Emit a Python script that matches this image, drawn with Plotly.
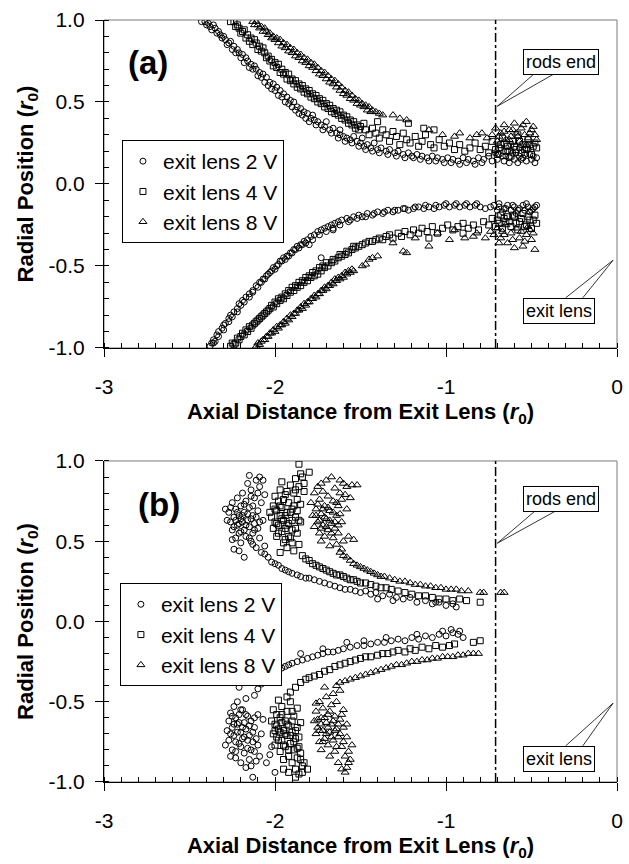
import plotly.graph_objects as go

# ---------------- data ----------------
X_TICKS = [-3, -2, -1, 0]
X_TICKTEXT = ["-3", "-2", "-1", "0"]
Y_TICKS = [-1.0, -0.5, 0.0, 0.5, 1.0]
Y_TICKTEXT = ["-1.0", "-0.5", "0.0", "0.5", "1.0"]
SERIES_NAMES = ["exit lens 2 V", "exit lens 4 V", "exit lens 8 V"]
RODS_END_X = -0.71

# panel (a)
a_2v_upper = [(-2.43,0.99),(-2.41,0.99),(-2.39,0.98),(-2.38,0.96),(-2.36,0.97),(-2.35,0.95),(-2.33,0.93),(-2.32,0.91),(-2.30,0.90),(-2.29,0.88),(-2.27,0.86),(-2.26,0.87),(-2.24,0.84),(-2.22,0.82),(-2.21,0.80),(-2.19,0.79),(-2.17,0.77),(-2.16,0.75),(-2.14,0.73),(-2.12,0.72),(-2.11,0.70),(-2.09,0.68),(-2.07,0.67),(-2.05,0.65),(-2.03,0.62),(-2.01,0.61),(-1.99,0.59),(-1.97,0.57),(-1.95,0.55),(-1.93,0.53),(-1.91,0.51),(-1.89,0.50),(-1.87,0.47),(-1.85,0.46),(-1.83,0.44),(-1.81,0.43),(-1.79,0.40),(-1.77,0.39),(-1.75,0.38),(-1.73,0.36),(-1.71,0.35),(-1.68,0.33),(-1.66,0.34),(-1.64,0.31),(-1.62,0.30),(-1.60,0.29),(-1.58,0.28),(-1.56,0.27),(-1.54,0.29),(-1.52,0.26),(-1.50,0.25),(-1.48,0.23),(-1.46,0.24),(-1.44,0.22),(-1.42,0.25),(-1.40,0.21),(-1.38,0.22),(-1.35,0.20),(-1.33,0.21),(-1.30,0.19),(-1.28,0.20),(-1.25,0.18),(-1.22,0.19),(-1.20,0.17),(-1.17,0.18),(-1.14,0.17),(-1.11,0.16),(-1.08,0.17),(-1.05,0.16),(-1.02,0.15),(-0.99,0.16),(-0.96,0.15),(-0.93,0.14),(-0.90,0.16),(-0.87,0.15),(-0.84,0.14),(-0.81,0.16),(-0.78,0.15),(-0.75,0.17),(-0.73,0.14),(-0.71,0.19),(-0.70,0.15),(-0.68,0.22),(-0.67,0.17),(-0.66,0.14),(-0.64,0.20),(-0.63,0.16),(-0.62,0.24),(-0.60,0.15),(-0.59,0.19),(-0.58,0.13),(-0.57,0.22),(-0.55,0.16),(-0.54,0.18),(-0.53,0.14),(-0.52,0.21),(-0.50,0.15),(-0.49,0.17),(-0.48,0.13),(-1.78,0.42),(-1.70,0.38),(-1.62,0.33),(-1.49,0.28),
              (-2.40,0.97),(-2.37,0.94),(-2.34,0.92),(-2.31,0.89),(-2.28,0.85),(-2.25,0.82),(-2.23,0.80),(-2.20,0.77),(-2.18,0.74),(-2.15,0.71),(-2.13,0.70),(-2.10,0.66),(-2.08,0.65),(-2.06,0.62),(-2.04,0.60),(-2.02,0.58),(-2.00,0.57),(-1.98,0.54),(-1.96,0.53),(-1.94,0.50),(-1.92,0.49),(-1.90,0.47),(-1.88,0.45),(-1.86,0.43),(-1.84,0.42),(-1.82,0.40),(-1.80,0.38),(-1.76,0.36),(-1.72,0.33),(-1.67,0.31),(-1.63,0.28),(-1.59,0.26),(-1.55,0.25),(-1.51,0.23),(-1.47,0.21),(-1.43,0.20),(-1.39,0.19),(-1.34,0.18),(-1.29,0.17),(-1.24,0.16),(-1.19,0.16),(-1.15,0.15),(-1.10,0.14),(-1.06,0.14),(-1.01,0.13),(-0.97,0.13),(-0.92,0.12),(-0.88,0.13),(-0.83,0.12),(-0.79,0.13),
              (-0.69,0.18),(-0.65,0.17),(-0.61,0.19),(-0.56,0.15),(-0.51,0.18),(-0.47,0.16),(-0.63,0.13),(-0.57,0.17)]
a_2v_lower = [(-2.38,-0.99),(-2.37,-0.97),(-2.36,-0.95),(-2.35,-0.96),(-2.34,-0.92),(-2.33,-0.90),(-2.31,-0.88),(-2.30,-0.86),(-2.29,-0.85),(-2.27,-0.82),(-2.26,-0.80),(-2.24,-0.78),(-2.22,-0.76),(-2.21,-0.73),(-2.19,-0.71),(-2.17,-0.69),(-2.15,-0.67),(-2.13,-0.65),(-2.11,-0.62),(-2.09,-0.60),(-2.07,-0.58),(-2.05,-0.56),(-2.03,-0.54),(-2.01,-0.51),(-1.99,-0.50),(-1.97,-0.47),(-1.95,-0.45),(-1.93,-0.44),(-1.91,-0.42),(-1.89,-0.40),(-1.87,-0.38),(-1.85,-0.37),(-1.83,-0.35),(-1.81,-0.34),(-1.79,-0.32),(-1.77,-0.31),(-1.75,-0.29),(-1.73,-0.28),(-1.71,-0.27),(-1.69,-0.26),(-1.67,-0.25),(-1.65,-0.24),(-1.63,-0.23),(-1.61,-0.22),(-1.58,-0.21),(-1.56,-0.22),(-1.54,-0.20),(-1.51,-0.19),(-1.49,-0.20),(-1.46,-0.18),(-1.43,-0.19),(-1.40,-0.17),(-1.37,-0.18),(-1.34,-0.16),(-1.31,-0.17),(-1.28,-0.16),(-1.25,-0.15),(-1.22,-0.16),(-1.19,-0.15),(-1.16,-0.14),(-1.13,-0.15),(-1.10,-0.14),(-1.07,-0.15),(-1.04,-0.14),(-1.01,-0.13),(-0.98,-0.14),(-0.95,-0.13),(-0.92,-0.14),(-0.89,-0.13),(-0.86,-0.14),(-0.83,-0.13),(-0.80,-0.14),(-0.77,-0.15),(-0.74,-0.14),(-0.72,-0.13),(-0.70,-0.16),(-0.69,-0.14),(-0.67,-0.17),(-0.65,-0.15),(-0.64,-0.13),(-0.62,-0.16),(-0.60,-0.14),(-0.59,-0.18),(-0.57,-0.15),(-0.55,-0.13),(-0.54,-0.16),(-0.52,-0.14),(-0.51,-0.17),(-0.49,-0.15),(-0.48,-0.14),(-1.73,-0.45),(-1.80,-0.37),(-1.66,-0.28),
              (-2.36,-0.97),(-2.33,-0.93),(-2.30,-0.89),(-2.27,-0.84),(-2.25,-0.81),(-2.22,-0.78),(-2.20,-0.74),(-2.18,-0.72),(-2.15,-0.69),(-2.13,-0.66),(-2.10,-0.63),(-2.08,-0.60),(-2.06,-0.58),(-2.04,-0.55),(-2.02,-0.53),(-2.00,-0.52),(-1.98,-0.49),(-1.96,-0.47),(-1.94,-0.46),(-1.92,-0.44),(-1.90,-0.42),(-1.88,-0.40),(-1.86,-0.39),(-1.84,-0.37),(-1.82,-0.36),(-1.78,-0.34),(-1.74,-0.31),(-1.70,-0.29),(-1.66,-0.27),(-1.62,-0.25),(-1.57,-0.23),(-1.52,-0.21),(-1.47,-0.20),(-1.42,-0.18),(-1.36,-0.17),(-1.30,-0.16),(-1.24,-0.15),(-1.18,-0.14),(-1.12,-0.13),(-1.06,-0.13),(-1.00,-0.12),(-0.94,-0.12),(-0.88,-0.12),(-0.82,-0.12),
              (-0.69,-0.12),(-0.66,-0.15),(-0.61,-0.13),(-0.58,-0.16),(-0.53,-0.12),(-0.50,-0.16),(-0.47,-0.13)]
a_4v_upper = [(-2.26,0.99),(-2.24,0.99),(-2.22,0.97),(-2.21,0.95),(-2.19,0.93),(-2.18,0.94),(-2.16,0.91),(-2.14,0.89),(-2.12,0.88),(-2.11,0.86),(-2.09,0.84),(-2.07,0.83),(-2.06,0.80),(-2.04,0.78),(-2.02,0.76),(-2.00,0.74),(-1.98,0.73),(-1.96,0.70),(-1.94,0.68),(-1.92,0.67),(-1.90,0.64),(-1.88,0.63),(-1.86,0.61),(-1.84,0.60),(-1.82,0.58),(-1.80,0.57),(-1.78,0.55),(-1.76,0.54),(-1.74,0.52),(-1.72,0.51),(-1.70,0.49),(-1.68,0.48),(-1.66,0.46),(-1.64,0.45),(-1.62,0.44),(-1.60,0.42),(-1.58,0.41),(-1.56,0.39),(-1.54,0.38),(-1.52,0.36),(-1.50,0.35),(-1.48,0.37),(-1.47,0.33),(-1.45,0.30),(-1.43,0.34),(-1.41,0.31),(-1.39,0.28),(-1.37,0.33),(-1.35,0.30),(-1.33,0.26),(-1.31,0.32),(-1.29,0.29),(-1.27,0.24),(-1.25,0.31),(-1.23,0.27),(-1.21,0.25),(-1.18,0.29),(-1.16,0.23),(-1.14,0.26),(-1.12,0.30),(-1.09,0.24),(-1.07,0.22),(-1.04,0.27),(-1.01,0.23),(-0.98,0.25),(-0.95,0.21),(-0.92,0.24),(-0.89,0.20),(-0.86,0.22),(-0.83,0.25),(-0.80,0.21),(-0.77,0.23),(-0.75,0.19),(-0.73,0.26),(-0.71,0.21),(-0.70,0.18),(-0.68,0.24),(-0.67,0.28),(-0.65,0.20),(-0.64,0.23),(-0.62,0.17),(-0.61,0.26),(-0.59,0.21),(-0.58,0.30),(-0.56,0.19),(-0.55,0.24),(-0.53,0.22),(-0.52,0.27),(-0.50,0.18),(-0.49,0.23),(-0.48,0.25),(-1.22,0.37),(-1.13,0.34),(-1.07,0.33),(-1.40,0.38),
              (-2.23,0.96),(-2.20,0.92),(-2.17,0.89),(-2.15,0.87),(-2.13,0.85),(-2.10,0.82),(-2.08,0.81),(-2.05,0.77),(-2.03,0.75),(-2.01,0.72),(-1.99,0.71),(-1.97,0.68),(-1.95,0.67),(-1.93,0.64),(-1.91,0.63),(-1.89,0.61),(-1.87,0.59),(-1.85,0.58),(-1.83,0.56),(-1.81,0.55),(-1.79,0.53),(-1.77,0.52),(-1.75,0.50),(-1.73,0.49),(-1.71,0.47),(-1.69,0.46),(-1.67,0.44),(-1.65,0.43),(-1.63,0.42),(-1.61,0.40),(-1.59,0.39),(-1.57,0.37),(-1.55,0.36),(-1.53,0.34),(-1.51,0.33),
              (-0.69,0.22),(-0.66,0.25),(-0.63,0.20),(-0.60,0.23),(-0.57,0.26),(-0.54,0.21),(-0.51,0.24),(-0.47,0.22)]
a_4v_lower = [(-2.26,-0.99),(-2.24,-0.98),(-2.23,-0.97),(-2.21,-0.95),(-2.20,-0.93),(-2.18,-0.92),(-2.16,-0.90),(-2.14,-0.88),(-2.13,-0.86),(-2.11,-0.84),(-2.09,-0.82),(-2.07,-0.80),(-2.05,-0.78),(-2.03,-0.76),(-2.01,-0.75),(-1.99,-0.73),(-1.97,-0.71),(-1.95,-0.70),(-1.93,-0.68),(-1.91,-0.66),(-1.89,-0.65),(-1.87,-0.63),(-1.85,-0.62),(-1.83,-0.60),(-1.81,-0.59),(-1.79,-0.57),(-1.77,-0.56),(-1.75,-0.55),(-1.73,-0.53),(-1.71,-0.51),(-1.69,-0.50),(-1.67,-0.48),(-1.65,-0.47),(-1.63,-0.45),(-1.61,-0.44),(-1.59,-0.43),(-1.57,-0.42),(-1.55,-0.40),(-1.53,-0.39),(-1.51,-0.38),(-1.49,-0.37),(-1.47,-0.36),(-1.45,-0.35),(-1.43,-0.35),(-1.41,-0.34),(-1.39,-0.33),(-1.37,-0.34),(-1.35,-0.32),(-1.33,-0.31),(-1.31,-0.33),(-1.28,-0.30),(-1.26,-0.32),(-1.24,-0.29),(-1.21,-0.31),(-1.19,-0.28),(-1.16,-0.30),(-1.14,-0.27),(-1.11,-0.29),(-1.08,-0.26),(-1.05,-0.30),(-1.02,-0.27),(-0.99,-0.25),(-0.96,-0.28),(-0.93,-0.26),(-0.90,-0.24),(-0.87,-0.27),(-0.84,-0.25),(-0.81,-0.28),(-0.78,-0.23),(-0.75,-0.25),(-0.73,-0.21),(-0.71,-0.26),(-0.70,-0.22),(-0.68,-0.19),(-0.67,-0.27),(-0.65,-0.23),(-0.64,-0.20),(-0.62,-0.26),(-0.61,-0.19),(-0.59,-0.24),(-0.58,-0.28),(-0.56,-0.21),(-0.55,-0.18),(-0.53,-0.25),(-0.52,-0.20),(-0.50,-0.27),(-0.49,-0.22),(-0.48,-0.19),(-1.10,-0.33),(-0.90,-0.30),
              (-2.25,-0.97),(-2.22,-0.94),(-2.19,-0.91),(-2.17,-0.89),(-2.15,-0.87),(-2.12,-0.85),(-2.10,-0.83),(-2.08,-0.81),(-2.06,-0.79),(-2.04,-0.77),(-2.02,-0.74),(-2.00,-0.72),(-1.98,-0.70),(-1.96,-0.69),(-1.94,-0.67),(-1.92,-0.65),(-1.90,-0.63),(-1.88,-0.62),(-1.86,-0.60),(-1.84,-0.59),(-1.82,-0.57),(-1.80,-0.56),(-1.78,-0.54),(-1.76,-0.53),(-1.74,-0.51),(-1.72,-0.50),(-1.70,-0.48),(-1.66,-0.46),(-1.62,-0.43),(-1.58,-0.41),(-1.54,-0.38),
              (-0.69,-0.24),(-0.66,-0.21),(-0.63,-0.23),(-0.60,-0.20),(-0.57,-0.23),(-0.54,-0.26),(-0.51,-0.22),(-0.47,-0.24)]
a_8v_upper = [(-2.13,0.99),(-2.11,0.99),(-2.10,0.97),(-2.08,0.96),(-2.06,0.95),(-2.05,0.93),(-2.03,0.92),(-2.01,0.90),(-1.99,0.89),(-1.97,0.88),(-1.95,0.86),(-1.93,0.85),(-1.91,0.83),(-1.89,0.82),(-1.87,0.80),(-1.85,0.79),(-1.83,0.77),(-1.81,0.76),(-1.79,0.74),(-1.77,0.73),(-1.75,0.71),(-1.73,0.69),(-1.71,0.68),(-1.69,0.66),(-1.67,0.64),(-1.65,0.63),(-1.63,0.61),(-1.61,0.59),(-1.59,0.57),(-1.57,0.56),(-1.55,0.54),(-1.53,0.52),(-1.51,0.51),(-1.49,0.49),(-1.47,0.48),(-1.45,0.47),(-1.43,0.45),(-1.41,0.44),(-1.39,0.43),(-1.37,0.42),(-1.31,0.42),(-1.27,0.40),(-1.23,0.39),(-1.10,0.33),(-1.02,0.30),(-0.95,0.29),(-0.92,0.31),(-0.86,0.28),(-0.82,0.30),(-0.79,0.31),(-0.76,0.28),(-0.73,0.30),(-0.71,0.34),(-0.70,0.26),(-0.68,0.31),(-0.66,0.36),(-0.65,0.27),(-0.63,0.33),(-0.62,0.29),(-0.60,0.37),(-0.59,0.31),(-0.57,0.26),(-0.56,0.34),(-0.54,0.30),(-0.53,0.38),(-0.52,0.28),(-0.50,0.33),(-0.49,0.35),(-0.48,0.30),
              (-2.12,0.97),(-2.09,0.95),(-2.07,0.93),(-2.04,0.91),(-2.02,0.89),(-2.00,0.88),(-1.98,0.86),(-1.96,0.84),(-1.94,0.83),(-1.92,0.81),(-1.90,0.80),(-1.88,0.78),(-1.86,0.77),(-1.84,0.75),(-1.82,0.74),(-1.80,0.72),(-1.78,0.71),(-1.76,0.69),(-1.74,0.67),(-1.72,0.66),(-1.70,0.64),(-1.68,0.62),(-1.66,0.61),(-1.64,0.59),(-1.62,0.57),(-1.60,0.55),(-1.58,0.54),(-1.56,0.52),(-1.54,0.51),(-1.52,0.49),(-1.50,0.48),(-1.48,0.47),(-1.46,0.45),(-1.44,0.44),
              (-0.69,0.29),(-0.66,0.32),(-0.63,0.27),(-0.61,0.33),(-0.58,0.29),(-0.55,0.36),(-0.51,0.31),(-0.47,0.27),(-0.53,0.24)]
a_8v_lower = [(-2.11,-0.99),(-2.09,-0.98),(-2.08,-0.96),(-2.06,-0.95),(-2.04,-0.93),(-2.02,-0.91),(-2.00,-0.90),(-1.98,-0.88),(-1.96,-0.86),(-1.94,-0.85),(-1.92,-0.83),(-1.90,-0.81),(-1.88,-0.79),(-1.86,-0.77),(-1.84,-0.76),(-1.82,-0.74),(-1.80,-0.72),(-1.78,-0.70),(-1.76,-0.69),(-1.74,-0.67),(-1.72,-0.65),(-1.70,-0.64),(-1.68,-0.62),(-1.66,-0.61),(-1.64,-0.59),(-1.62,-0.58),(-1.60,-0.57),(-1.58,-0.55),(-1.56,-0.54),(-1.54,-0.53),(-1.49,-0.50),(-1.47,-0.49),(-1.45,-0.46),(-1.43,-0.45),(-1.40,-0.44),(-1.25,-0.41),(-1.23,-0.42),(-1.10,-0.38),(-0.98,-0.34),(-0.89,-0.33),(-0.84,-0.32),(-0.82,-0.30),(-0.77,-0.33),(-0.74,-0.29),(-0.72,-0.31),(-0.70,-0.27),(-0.68,-0.33),(-0.67,-0.29),(-0.65,-0.25),(-0.64,-0.36),(-0.62,-0.30),(-0.60,-0.39),(-0.59,-0.27),(-0.57,-0.33),(-0.56,-0.29),(-0.54,-0.35),(-0.53,-0.31),(-0.52,-0.26),(-0.50,-0.34),(-0.49,-0.30),(-0.48,-0.40),
              (-2.10,-0.97),(-2.07,-0.95),(-2.05,-0.93),(-2.03,-0.91),(-2.01,-0.89),(-1.99,-0.87),(-1.97,-0.86),(-1.95,-0.84),(-1.93,-0.82),(-1.91,-0.80),(-1.89,-0.79),(-1.87,-0.77),(-1.85,-0.75),(-1.83,-0.73),(-1.81,-0.72),(-1.79,-0.70),(-1.77,-0.68),(-1.75,-0.67),(-1.73,-0.65),(-1.71,-0.63),(-1.69,-0.62),(-1.67,-0.60),(-1.65,-0.58),(-1.63,-0.57),(-1.61,-0.56),(-1.59,-0.54),(-1.57,-0.53),(-1.55,-0.52),
              (-1.31,-0.36),(-1.18,-0.33),(-1.05,-0.30),(-0.95,-0.28),(-0.69,-0.36),(-0.66,-0.31),(-0.61,-0.34),(-0.55,-0.38),(-0.51,-0.28)]

# panel (b)
b_2v_upper = [(-2.27,0.68),(-2.26,0.62),(-2.25,0.74),(-2.25,0.57),(-2.24,0.65),(-2.23,0.70),(-2.23,0.52),(-2.22,0.60),(-2.22,0.77),(-2.21,0.55),(-2.21,0.66),(-2.20,0.72),(-2.20,0.49),(-2.19,0.62),(-2.19,0.80),(-2.18,0.57),(-2.18,0.68),(-2.17,0.53),(-2.17,0.75),(-2.16,0.63),(-2.16,0.86),(-2.15,0.59),(-2.15,0.71),(-2.14,0.50),(-2.14,0.82),(-2.13,0.66),(-2.13,0.55),(-2.12,0.77),(-2.12,0.61),(-2.11,0.88),(-2.11,0.46),(-2.10,0.69),(-2.10,0.58),(-2.09,0.84),(-2.09,0.52),(-2.08,0.74),(-2.08,0.43),(-2.07,0.63),(-2.07,0.88),(-2.06,0.79),(-2.28,0.63),(-2.24,0.45),(-2.29,0.70),(-2.21,0.44),(-2.18,0.40),
              (-2.26,0.71),(-2.24,0.59),(-2.23,0.63),(-2.22,0.68),(-2.21,0.61),(-2.20,0.56),(-2.19,0.66),(-2.18,0.73),(-2.17,0.60),(-2.16,0.67),(-2.15,0.52),(-2.14,0.64),(-2.13,0.72),(-2.12,0.57),(-2.11,0.65),(-2.10,0.80),(-2.09,0.62),(-2.14,0.78),(-2.20,0.64),(-2.25,0.51),(-2.13,0.48),(-2.09,0.90),(-2.15,0.91),(-2.06,0.47),
              (-2.06,0.42),(-2.04,0.40),(-2.02,0.37),(-2.00,0.36),(-1.98,0.35),(-1.96,0.33),(-1.94,0.32),(-1.92,0.31),(-1.90,0.30),(-1.87,0.29),(-1.85,0.28),(-1.82,0.27),(-1.80,0.27),(-1.77,0.26),(-1.74,0.25),(-1.71,0.24),(-1.68,0.23),(-1.65,0.22),(-1.62,0.21),(-1.59,0.20),(-1.56,0.20),(-1.53,0.19),(-1.50,0.18),(-1.47,0.19),(-1.44,0.17),(-1.41,0.18),(-1.37,0.16),(-1.33,0.17),(-1.29,0.15),(-1.25,0.14),(-1.21,0.15),(-1.17,0.12),(-1.12,0.13),(-1.08,0.11),(-1.04,0.12),(-1.00,0.10),(-0.96,0.11),(-0.94,0.09),(-1.40,0.14),(-1.31,0.13),(-1.06,0.12)]
b_2v_lower = [(-2.28,-0.68),(-2.27,-0.62),(-2.27,-0.74),(-2.26,-0.57),(-2.25,-0.66),(-2.25,-0.80),(-2.24,-0.53),(-2.24,-0.71),(-2.23,-0.60),(-2.23,-0.85),(-2.22,-0.64),(-2.22,-0.50),(-2.21,-0.76),(-2.21,-0.58),(-2.20,-0.69),(-2.20,-0.88),(-2.19,-0.55),(-2.19,-0.73),(-2.18,-0.63),(-2.18,-0.82),(-2.17,-0.48),(-2.17,-0.67),(-2.16,-0.79),(-2.16,-0.59),(-2.15,-0.86),(-2.15,-0.71),(-2.14,-0.62),(-2.14,-0.90),(-2.13,-0.75),(-2.13,-0.97),(-2.12,-0.81),(-2.12,-0.66),(-2.11,-0.87),(-2.10,-0.58),(-2.10,-0.77),(-2.09,-0.84),(-2.08,-0.70),(-2.29,-0.77),(-2.26,-0.84),(-2.02,-0.78),(-2.05,-0.88),(-2.07,-0.61),(-2.00,-0.94),(-2.03,-0.83),
              (-2.26,-0.70),(-2.24,-0.64),(-2.23,-0.75),(-2.22,-0.69),(-2.21,-0.63),(-2.20,-0.78),(-2.19,-0.66),(-2.18,-0.72),(-2.17,-0.58),(-2.16,-0.74),(-2.15,-0.65),(-2.14,-0.80),(-2.13,-0.69),(-2.12,-0.60),(-2.11,-0.73),(-2.20,-0.55),(-2.23,-0.81),(-2.17,-0.91),(-2.25,-0.59),
              (-2.12,-0.46),(-2.10,-0.42),(-2.08,-0.39),(-2.06,-0.37),(-2.04,-0.35),(-2.02,-0.34),(-2.00,-0.32),(-1.98,-0.31),(-1.96,-0.29),(-1.94,-0.28),(-1.92,-0.27),(-1.90,-0.26),(-1.87,-0.25),(-1.84,-0.24),(-1.81,-0.23),(-1.78,-0.22),(-1.75,-0.21),(-1.72,-0.20),(-1.69,-0.19),(-1.66,-0.19),(-1.63,-0.18),(-1.60,-0.17),(-1.56,-0.16),(-1.52,-0.15),(-1.48,-0.15),(-1.44,-0.14),(-1.40,-0.13),(-1.36,-0.13),(-1.32,-0.12),(-1.28,-0.11),(-1.24,-0.12),(-1.20,-0.10),(-1.16,-0.11),(-1.12,-0.09),(-1.08,-0.10),(-1.04,-0.08),(-1.00,-0.09),(-0.96,-0.07),(-0.93,-0.08),(-0.90,-0.10),(-2.00,-0.28),(-1.85,-0.20),(-1.72,-0.17),(-1.58,-0.13),(-1.48,-0.12),(-1.35,-0.10),(-1.17,-0.08),(-1.02,-0.06),(-0.97,-0.05),(-0.92,-0.06),(-2.21,-0.41)]
b_4v_upper = [(-2.02,0.65),(-2.01,0.72),(-2.01,0.58),(-2.00,0.78),(-2.00,0.62),(-1.99,0.69),(-1.99,0.53),(-1.98,0.75),(-1.98,0.60),(-1.97,0.82),(-1.97,0.66),(-1.96,0.56),(-1.96,0.71),(-1.95,0.49),(-1.95,0.63),(-1.94,0.79),(-1.94,0.58),(-1.93,0.68),(-1.93,0.46),(-1.92,0.74),(-1.92,0.61),(-1.91,0.85),(-1.91,0.52),(-1.90,0.70),(-1.90,0.57),(-1.89,0.80),(-1.89,0.44),(-1.88,0.65),(-1.88,0.89),(-1.87,0.55),(-1.87,0.76),(-1.86,0.48),(-1.86,0.84),(-1.85,0.62),(-1.85,0.92),(-1.86,0.98),(-1.84,0.90),(-1.96,0.87),(-2.03,0.68),(-1.97,0.43),(-1.83,0.81),
              (-2.00,0.70),(-1.99,0.61),(-1.98,0.55),(-1.97,0.72),(-1.96,0.64),(-1.95,0.76),(-1.94,0.66),(-1.93,0.60),(-1.92,0.53),(-1.91,0.68),(-1.90,0.63),(-1.89,0.72),(-1.88,0.58),(-1.87,0.69),(-1.86,0.63),(-1.85,0.73),(-1.93,0.81),(-1.90,0.49),(-1.94,0.51),(-1.88,0.82),(-1.83,0.86),(-1.80,0.93),
              (-1.84,0.41),(-1.82,0.39),(-1.80,0.38),(-1.78,0.36),(-1.76,0.35),(-1.74,0.34),(-1.72,0.33),(-1.70,0.32),(-1.68,0.31),(-1.66,0.30),(-1.64,0.29),(-1.62,0.29),(-1.60,0.28),(-1.58,0.27),(-1.56,0.26),(-1.54,0.26),(-1.52,0.25),(-1.50,0.24),(-1.47,0.24),(-1.44,0.23),(-1.41,0.22),(-1.38,0.21),(-1.35,0.21),(-1.32,0.20),(-1.28,0.19),(-1.24,0.18),(-1.20,0.17),(-1.16,0.16),(-1.12,0.16),(-1.08,0.15),(-1.04,0.14),(-1.00,0.14),(-0.96,0.13),(-0.92,0.14),(-0.88,0.13),(-0.80,0.12)]
b_4v_lower = [(-2.02,-0.62),(-2.01,-0.70),(-2.01,-0.55),(-2.00,-0.77),(-2.00,-0.64),(-1.99,-0.58),(-1.99,-0.72),(-1.98,-0.49),(-1.98,-0.67),(-1.97,-0.81),(-1.97,-0.60),(-1.96,-0.74),(-1.96,-0.53),(-1.95,-0.68),(-1.95,-0.86),(-1.94,-0.62),(-1.94,-0.78),(-1.93,-0.56),(-1.93,-0.71),(-1.92,-0.84),(-1.92,-0.65),(-1.91,-0.50),(-1.91,-0.76),(-1.90,-0.88),(-1.90,-0.69),(-1.89,-0.59),(-1.89,-0.80),(-1.88,-0.73),(-1.88,-0.92),(-1.87,-0.66),(-1.87,-0.85),(-1.86,-0.78),(-1.86,-0.95),(-1.85,-0.82),(-1.84,-0.90),(-1.83,-0.88),(-1.81,-0.92),(-1.88,-0.97),(-1.92,-0.94),(-1.95,-0.92),(-1.93,-0.47),(-1.87,-0.54),(-1.85,-0.63),
              (-2.00,-0.68),(-1.99,-0.65),(-1.98,-0.74),(-1.97,-0.69),(-1.96,-0.63),(-1.95,-0.77),(-1.94,-0.70),(-1.93,-0.64),(-1.92,-0.80),(-1.91,-0.71),(-1.90,-0.62),(-1.89,-0.75),(-1.88,-0.68),(-1.87,-0.79),(-1.86,-0.72),(-1.85,-0.86),(-1.90,-0.56),(-1.96,-0.58),(-1.84,-0.94),
              (-1.91,-0.44),(-1.88,-0.41),(-1.85,-0.38),(-1.82,-0.36),(-1.80,-0.35),(-1.77,-0.34),(-1.74,-0.33),(-1.71,-0.31),(-1.68,-0.30),(-1.65,-0.28),(-1.62,-0.27),(-1.59,-0.26),(-1.56,-0.25),(-1.53,-0.24),(-1.50,-0.23),(-1.47,-0.22),(-1.44,-0.22),(-1.40,-0.21),(-1.37,-0.20),(-1.34,-0.20),(-1.31,-0.19),(-1.28,-0.18),(-1.24,-0.19),(-1.21,-0.17),(-1.18,-0.18),(-1.14,-0.16),(-1.10,-0.17),(-1.06,-0.15),(-1.02,-0.16),(-0.98,-0.15),(-0.95,-0.14),(-0.84,-0.13),(-0.80,-0.12)]
b_8v_upper = [(-1.79,0.74),(-1.78,0.66),(-1.77,0.80),(-1.77,0.59),(-1.76,0.70),(-1.75,0.62),(-1.75,0.84),(-1.74,0.55),(-1.74,0.76),(-1.73,0.67),(-1.73,0.50),(-1.72,0.60),(-1.72,0.81),(-1.71,0.72),(-1.71,0.53),(-1.70,0.64),(-1.70,0.88),(-1.69,0.57),(-1.69,0.78),(-1.68,0.47),(-1.68,0.69),(-1.67,0.90),(-1.67,0.61),(-1.66,0.52),(-1.66,0.75),(-1.65,0.83),(-1.65,0.58),(-1.64,0.66),(-1.64,0.48),(-1.63,0.72),(-1.63,0.55),(-1.62,0.80),(-1.61,0.62),(-1.61,0.45),(-1.60,0.86),(-1.58,0.84),(-1.55,0.85),(-1.52,0.85),(-1.60,0.50),(-1.57,0.53),(-1.54,0.51),
              (-1.76,0.66),(-1.75,0.73),(-1.74,0.63),(-1.73,0.58),(-1.72,0.70),(-1.71,0.65),(-1.70,0.59),(-1.69,0.71),(-1.68,0.63),(-1.67,0.55),(-1.66,0.68),(-1.65,0.62),(-1.64,0.74),(-1.63,0.60),(-1.62,0.67),(-1.61,0.76),(-1.59,0.79),(-1.73,0.86),(-1.62,0.88),(-1.56,0.77),(-1.58,0.70),
              (-1.62,0.43),(-1.60,0.41),(-1.58,0.40),(-1.56,0.38),(-1.54,0.36),(-1.52,0.35),(-1.50,0.34),(-1.48,0.33),(-1.46,0.32),(-1.44,0.31),(-1.42,0.30),(-1.40,0.29),(-1.38,0.28),(-1.36,0.28),(-1.33,0.27),(-1.30,0.26),(-1.27,0.25),(-1.24,0.25),(-1.21,0.24),(-1.18,0.23),(-1.15,0.23),(-1.12,0.22),(-1.09,0.22),(-1.06,0.21),(-1.03,0.21),(-1.00,0.20),(-0.97,0.20),(-0.94,0.20),(-0.91,0.19),(-0.87,0.19),(-0.80,0.18),(-0.78,0.18),(-0.68,0.18),(-0.66,0.18)]
b_8v_lower = [(-1.77,-0.62),(-1.76,-0.70),(-1.76,-0.56),(-1.75,-0.66),(-1.74,-0.75),(-1.74,-0.50),(-1.73,-0.60),(-1.73,-0.80),(-1.72,-0.68),(-1.72,-0.54),(-1.71,-0.73),(-1.70,-0.63),(-1.70,-0.47),(-1.69,-0.77),(-1.69,-0.58),(-1.68,-0.69),(-1.68,-0.84),(-1.67,-0.52),(-1.67,-0.64),(-1.66,-0.74),(-1.66,-0.45),(-1.65,-0.59),(-1.65,-0.81),(-1.64,-0.67),(-1.64,-0.50),(-1.63,-0.72),(-1.63,-0.88),(-1.62,-0.61),(-1.62,-0.43),(-1.61,-0.78),(-1.61,-0.92),(-1.60,-0.66),(-1.60,-0.55),(-1.59,-0.84),(-1.58,-0.72),(-1.57,-0.81),(-1.56,-0.86),(-1.55,-0.77),(-1.59,-0.94),(-1.76,-0.51),(-1.71,-0.41),
              (-1.75,-0.61),(-1.74,-0.68),(-1.73,-0.64),(-1.72,-0.75),(-1.71,-0.60),(-1.70,-0.70),(-1.69,-0.66),(-1.68,-0.56),(-1.67,-0.72),(-1.66,-0.62),(-1.65,-0.68),(-1.64,-0.78),(-1.63,-0.64),(-1.62,-0.70),(-1.61,-0.58),(-1.60,-0.75),(-1.58,-0.64),(-1.57,-0.88),(-1.58,-0.91),
              (-1.64,-0.40),(-1.62,-0.38),(-1.59,-0.37),(-1.56,-0.36),(-1.53,-0.35),(-1.50,-0.34),(-1.47,-0.33),(-1.44,-0.32),(-1.41,-0.31),(-1.38,-0.30),(-1.35,-0.29),(-1.32,-0.28),(-1.29,-0.27),(-1.26,-0.27),(-1.23,-0.26),(-1.20,-0.25),(-1.17,-0.25),(-1.14,-0.24),(-1.11,-0.24),(-1.08,-0.23),(-1.05,-0.23),(-1.02,-0.22),(-0.99,-0.22),(-0.96,-0.22),(-0.93,-0.21),(-0.90,-0.21),(-0.87,-0.20),(-0.84,-0.20),(-0.81,-0.20)]

# ---------------- figure ----------------
FONT = "Liberation Sans, Arial, sans-serif"
SYMBOLS = ["circle-open", "square-open", "triangle-up-open"]
SIZES = [6, 6, 7]

panels = [
    ("x", "y", "legend", [a_2v_upper + a_2v_lower, a_4v_upper + a_4v_lower, a_8v_upper + a_8v_lower]),
    ("x2", "y2", "legend2", [b_2v_upper + b_2v_lower, b_4v_upper + b_4v_lower, b_8v_upper + b_8v_lower]),
]

fig = go.Figure()
for xa, ya, lg, series in panels:
    for name, sym, sz, pts in zip(SERIES_NAMES, SYMBOLS, SIZES, series):
        xs = [p[0] for p in pts]
        ys = [p[1] for p in pts]
        fig.add_trace(go.Scatter(
            x=xs, y=ys, mode="markers", name=name, xaxis=xa, yaxis=ya, legend=lg,
            marker=dict(symbol=sym, size=sz, color="black", line=dict(width=1.0, color="black")),
        ))

x_title = "<b>Axial Distance from Exit Lens (<i>r</i><sub>0</sub>)</b>"
y_title = "<b>Radial Position (<i>r</i><sub>0</sub>)</b>"

def xaxis(anchor):
    return dict(
        anchor=anchor, domain=[0, 1], range=[-3, 0], tickmode="array",
        tickvals=X_TICKS, ticktext=X_TICKTEXT, ticks="outside", ticklen=8,
        tickwidth=1.2, tickcolor="black", showline=True, linecolor="black",
        linewidth=1.3, showgrid=False, zeroline=False, ticklabelstandoff=12,
        tickfont=dict(family=FONT, size=21, color="black"),
        minor=dict(tickmode="linear", tick0=0, dtick=0.1, ticks="inside",
                   ticklen=5, tickwidth=1, tickcolor="black", showgrid=False),
        title=dict(text=x_title, font=dict(family=FONT, size=22, color="black"), standoff=6),
    )

def yaxis(anchor, domain):
    return dict(
        anchor=anchor, domain=domain, range=[-1, 1], tickmode="array",
        tickvals=Y_TICKS, ticktext=Y_TICKTEXT, ticks="outside", ticklen=8,
        tickwidth=1.2, tickcolor="black", showline=True, linecolor="black",
        linewidth=1.3, showgrid=False, zeroline=False, ticklabelstandoff=6,
        tickfont=dict(family=FONT, size=21, color="black"),
        minor=dict(tickmode="linear", tick0=0, dtick=0.1, ticks="inside",
                   ticklen=5, tickwidth=1, tickcolor="black", showgrid=False),
        title=dict(text=y_title, font=dict(family=FONT, size=22, color="black"), standoff=8),
    )

dom_a = [0.5696, 1.0]
dom_b = [0.0, 0.4213]

legend_style = dict(
    bgcolor="white", bordercolor="black", borderwidth=1,
    font=dict(family=FONT, size=21, color="black"),
    xanchor="left", yanchor="top", tracegroupgap=0, itemwidth=30,
)

fig.update_layout(
    width=629, height=864, autosize=False,
    margin=dict(l=104, r=6, t=20, b=82),
    paper_bgcolor="white", plot_bgcolor="white",
    font=dict(family=FONT, color="black"),
    xaxis=xaxis("y"), yaxis=yaxis("x", dom_a),
    xaxis2=xaxis("y2"), yaxis2=yaxis("x2", dom_b),
    legend=dict(x=0.035, y=0.8425, **legend_style),
    legend2=dict(x=0.031, y=0.261, **legend_style),
    showlegend=True,
)

shapes = []
annotations = []
for xa, ya, label, lab_pos, rods_box, rods_tip, lens_box, lens_tip in [
    ("x", "y", "(a)", (-2.74, 0.74), (-0.33, 0.746, 0.676), 0.474, (-0.34, -0.777, -0.694), -0.465),
    ("x2", "y2", "(b)", (-2.68, 0.73), (-0.33, 0.762, 0.6875), 0.4875, (-0.34, -0.856, -0.775), -0.509),
]:
    dom = xa + " domain"
    ydom = ya + " domain"
    # frame (top/right) in grey
    shapes.append(dict(type="rect", xref=dom, yref=ydom, x0=0, x1=1, y0=0, y1=1,
                       line=dict(color="#7a7a7a", width=1), layer="below"))
    # rods end dash-dot line
    shapes.append(dict(type="line", xref=xa, yref=ya, x0=RODS_END_X, x1=RODS_END_X, y0=-1, y1=1,
                       line=dict(color="black", width=1.5, dash="dashdot")))
    # callout wedges
    shapes.append(dict(type="path", xref=xa, yref=ya,
                       path=f"M -0.48,{rods_box[2]} L {RODS_END_X + 0.01},{rods_tip} L -0.36,{rods_box[2]}",
                       line=dict(color="black", width=0.8)))
    shapes.append(dict(type="path", xref=xa, yref=ya,
                       path=f"M -0.30,{lens_box[2]} L -0.023,{lens_tip} L -0.20,{lens_box[2]}",
                       line=dict(color="black", width=0.8)))
    annotations.append(dict(xref=xa, yref=ya, x=lab_pos[0], y=lab_pos[1], text=f"<b>{label}</b>",
                            showarrow=False, font=dict(family=FONT, size=33, color="black")))
    annotations.append(dict(xref=xa, yref=ya, x=rods_box[0], y=rods_box[1], text="rods end",
                            showarrow=False, bgcolor="white", bordercolor="black", borderwidth=1,
                            borderpad=2, font=dict(family=FONT, size=18, color="black")))
    annotations.append(dict(xref=xa, yref=ya, x=lens_box[0], y=lens_box[1], text="exit lens",
                            showarrow=False, bgcolor="white", bordercolor="black", borderwidth=1,
                            borderpad=2, font=dict(family=FONT, size=18, color="black")))

fig.update_layout(shapes=shapes, annotations=annotations)
fig.write_html("out.html")
